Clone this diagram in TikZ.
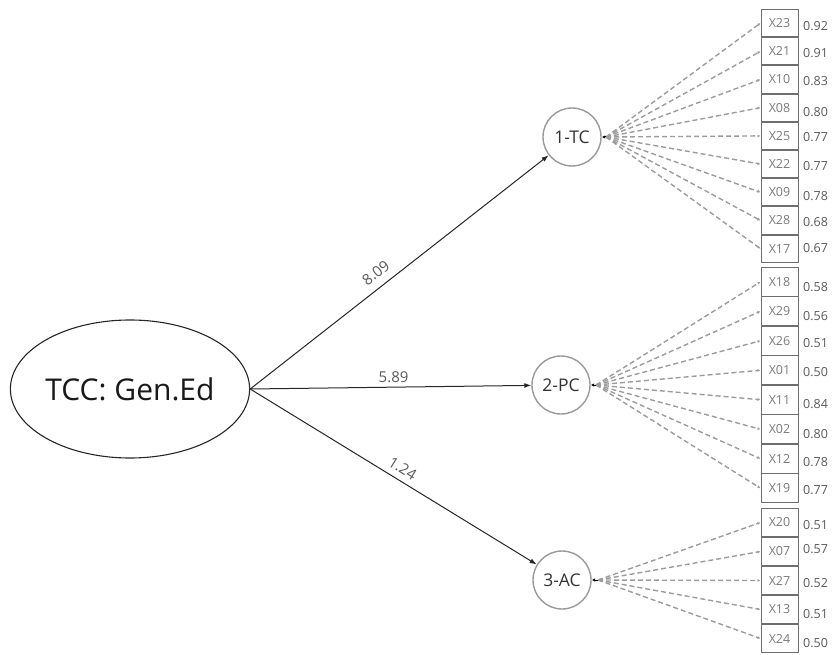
\documentclass[tikz,border=0pt]{standalone}
\usepackage{fontspec}
\setmainfont{Open Sans}
\usetikzlibrary{arrows.meta,shapes.geometric}
\definecolor{circgray}{HTML}{9A9A9A}
\definecolor{dashgray}{HTML}{9C9C9C}
\definecolor{boxgray}{HTML}{6E6E6E}
\definecolor{labgray}{HTML}{7A7A7A}
\definecolor{valgray}{HTML}{5A5A5A}
\tikzset{
  latent/.style={ellipse,draw=black!85,line width=1.1pt,minimum width=234pt,minimum height=138pt,inner sep=0pt,font=\fontsize{30}{30}\selectfont,text=black!90},
  factor/.style={circle,draw=circgray,line width=1.4pt,minimum size=58pt,inner sep=0pt,font=\fontsize{17.5}{17.5}\selectfont,text=black!80},
  obsbox/.style={rectangle,draw=boxgray,line width=1pt,minimum width=37pt,inner sep=0pt,font=\fontsize{12.5}{12.5}\selectfont,text=labgray},
  valtxt/.style={anchor=west,inner sep=0pt,font=\fontsize{12.5}{12.5}\selectfont,text=valgray},
  mainarrow/.style={-{Latex[length=7pt,width=5pt]},line width=1pt,black!85},
  dashline/.style={-{Latex[length=3pt,width=3pt]},dashgray,line width=1.4pt,dash pattern=on 5pt off 3pt},
  tipline/.style={-{Latex[length=3.5pt,width=3.5pt]},black,line width=1pt},
  elabel/.style={font=\fontsize{15}{15}\selectfont,text=black!65,inner sep=1pt}
}
\begin{document}
\begin{tikzpicture}[x=1pt,y=-1pt]
\useasboundingbox (0,0) rectangle (832,655);
\node[latent] (e) at (130,389) {TCC: Gen.Ed};
\node[factor] (tc) at (572,137) {1-TC};
\node[factor] (pc) at (561,385) {2-PC};
\node[factor] (ac) at (562,580) {3-AC};
\draw[mainarrow] (e.east) -- (tc) node[elabel,sloped,above=7pt,pos=0.45] (l1) {8.09};
\draw[mainarrow] (e.east) -- (pc) node[elabel,above=3pt,pos=0.51] (l2) {5.89};
\draw[mainarrow] (e.east) -- (ac) node[elabel,sloped,above=5pt,pos=0.51] (l3) {1.24};
\coordinate (c1) at (606,137);
\coordinate (c2) at (596,385);
\coordinate (c3) at (598,580);
\foreach \lab/\yy/\val/\vy in {X23/23.1/0.92/26,X21/51.3/0.91/53,X10/79.5/0.83/81,X08/107.7/0.80/112,X25/135.9/0.77/137,X22/164.1/0.77/166,X09/192.3/0.78/196,X28/220.5/0.68/222,X17/248.7/0.67/248}{
  \node[obsbox,minimum height=27.3pt] (\lab) at (779.5,\yy) {\lab};
  \node[valtxt] (v\lab) at (803,\vy) {\val};
  \draw[dashline] (c1) -- (\lab.west);
}
\foreach \lab/\yy/\val/\vy in {X18/281.75/0.58/287,X29/311.25/0.56/316,X26/340.75/0.51/343,X01/370.25/0.50/372,X11/399.75/0.84/404,X02/429.25/0.80/434,X12/458.75/0.78/462,X19/488.25/0.77/490}{
  \node[obsbox,minimum height=28.6pt] (\lab) at (779.5,\yy) {\lab};
  \node[valtxt] (v\lab) at (803,\vy) {\val};
  \draw[dashline] (c2) -- (\lab.west);
}
\foreach \lab/\yy/\val/\vy in {X20/522.5/0.51/525,X07/551.5/0.57/549,X27/580.5/0.52/583,X13/609.5/0.51/614,X24/638.5/0.50/643}{
  \node[obsbox,minimum height=28.1pt] (\lab) at (779.5,\yy) {\lab};
  \node[valtxt] (v\lab) at (803,\vy) {\val};
  \draw[dashline] (c3) -- (\lab.west);
}
\draw[tipline] (c1) -- (tc.east);
\draw[tipline] (c2) -- (pc.east);
\draw[tipline] (c3) -- (ac.east);
\end{tikzpicture}
\end{document}
